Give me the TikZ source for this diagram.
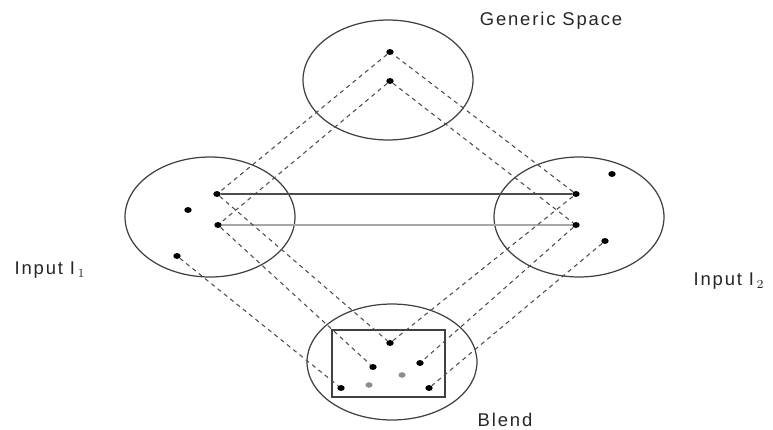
\documentclass[tikz,border=0pt]{standalone}
\usepackage{fontspec}
\setmainfont{Liberation Sans}[LetterSpace=10]
\usetikzlibrary{shapes.geometric}

\begin{document}
\begin{tikzpicture}[x=0.02cm,y=-0.02cm,
	space/.style={draw=black!75,line width=0.7pt,ellipse,minimum width=3.4cm,minimum height=2.4cm,inner sep=0pt},
	dot/.style={ellipse,fill=black,inner sep=0pt,minimum width=4.2pt,minimum height=3.4pt},
	greydot/.style={ellipse,fill=black!45,inner sep=0pt,minimum width=4pt,minimum height=3.2pt},
	map/.style={draw=black!70,line width=0.6pt,dash pattern=on 2.4pt off 2.2pt},
	label/.style={font=\fontsize{10.5}{12}\selectfont,text=black!85}]
	\useasboundingbox (0,0) rectangle (773,429);

	\node[space] (generic) at (388,80) {};
	\node[space] (input1)  at (210,217) {};
	\node[space] (input2)  at (579,217) {};
	\node[space,minimum height=2.32cm] (blend) at (392,362) {};
	\draw[black!75,line width=0.7pt] (332,330) rectangle (445,397);

	\node[dot] (g1) at (390,52) {};
	\node[dot] (g2) at (390,81) {};

	\node[dot] (l1) at (217,194) {};
	\node[dot] (l2) at (218,225) {};
	\node[dot] (l3) at (177,256) {};
	\node[dot] (l4) at (188,210) {};

	\node[dot] (r1) at (576,194) {};
	\node[dot] (r2) at (576,225) {};
	\node[dot] (r3) at (605,241) {};
	\node[dot] (r4) at (612,174) {};

	\node[dot] (b1) at (390,343) {};
	\node[dot] (b2) at (373,367) {};
	\node[dot] (b3) at (420,363) {};
	\node[dot] (b4) at (341,388) {};
	\node[dot] (b5) at (429,388) {};
	\node[greydot] (b6) at (369,385) {};
	\node[greydot] (b7) at (402,375) {};

	\draw[black!70,line width=0.8pt] (l1) -- (r1);
	\draw[black!35,line width=1.4pt] (l2) -- (r2);

	\path[map] (g1) -- (l1) -- (b1) -- (r1) -- (g1);
	\path[map] (g2) -- (l2) -- (b2);
	\path[map] (g2) -- (r2) -- (b3);
	\path[map] (l3) -- (b4);
	\path[map] (r3) -- (b5);

	\node[label] (gentext) at (551,21) {Generic Space};
	\node[label] (in1text) at (50,270) {Input I$_{\,1}$};
	\node[label] (in2text) at (729,281) {Input I$_{\,2}$};
	\node[label] (bltext) at (505,420) {Blend};

\end{tikzpicture}
\end{document}
